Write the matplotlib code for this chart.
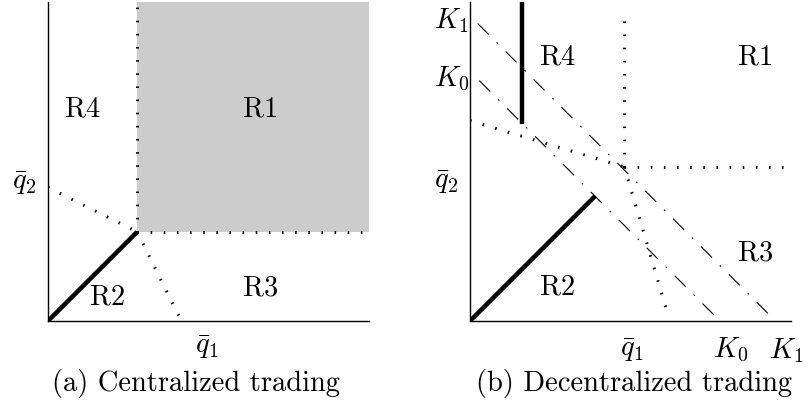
import matplotlib
matplotlib.use("Agg")
import matplotlib.pyplot as plt

plt.rcParams['font.family'] = 'serif'
plt.rcParams['font.serif'] = ['cmr10', 'DejaVu Serif']
plt.rcParams['mathtext.fontset'] = 'cm'
plt.rcParams['axes.unicode_minus'] = False

# ---- data (normalised so that q1bar = q2bar = 1) ----
q_bar = [1.0, 1.0]                      # (q1bar, q2bar)
# panel (a)
a_xmax, a_ymax = 3.6, 3.58
a_upper_dotted = [[0.0, 1.0], [1.5, 1.0]]     # x list, y list
a_lower_dotted = [[1.0, 1.47], [1.0, 0.05]]
a_regions = ["R4", "R1", "R2", "R3"]
a_region_xy = [[0.39, 2.37], [2.39, 2.37], [0.67, 0.26], [2.39, 0.37]]
# panel (b)
b_xmax, b_ymax = 2.08, 2.07
K0, K1 = 1.62, 1.98
b_upper_dotted = [[0.0, 1.0], [1.3, 1.0]]
b_lower_dotted = [[1.0, 1.28], [1.0, 0.05]]
b_thick_vertical_x = 0.34
b_thick_diag_end = 0.81
b_regions = ["R4", "R1", "R3", "R2"]
b_region_xy = [[0.57, 1.71], [1.85, 1.71], [1.85, 0.44], [0.57, 0.22]]

FS = 20.5
W, H = 810, 400
fig = plt.figure(figsize=(8.1, 4.0), dpi=100)

dot_kw = dict(color='black', lw=2.2, dashes=(0.5, 3.8), dash_capstyle='butt')
dd_kw = dict(color='black', lw=0.8, dashes=(14, 10, 1.5, 10))


def make_ax(px_left, px_right, px_top, px_bottom, xmax, ymax):
    ax = fig.add_axes([px_left / W, (H - px_bottom) / H,
                       (px_right - px_left) / W, (px_bottom - px_top) / H])
    ax.set_xlim(0, xmax)
    ax.set_ylim(0, ymax)
    ax.axis('off')
    ax.plot([0, 0], [0, ymax], color='black', lw=1.0, clip_on=False)
    ax.plot([0, xmax], [0, 0], color='black', lw=1.0, clip_on=False)
    return ax

# ---------------- panel (a) ----------------
ax = make_ax(48, 369, 2, 321, a_xmax, a_ymax)
ax.fill_between([q_bar[0], a_xmax], q_bar[1], a_ymax, color='#cccccc', lw=0)
ax.plot([q_bar[0], q_bar[0]], [q_bar[1], a_ymax], **dot_kw)
ax.plot([q_bar[0], a_xmax], [q_bar[1], q_bar[1]], **dot_kw)
ax.plot(a_upper_dotted[0], a_upper_dotted[1], **dot_kw)
ax.plot(a_lower_dotted[0], a_lower_dotted[1], **dot_kw)
ax.plot([0, q_bar[0]], [0, q_bar[1]], color='black', lw=3.2, solid_capstyle='butt')
for lab, (x, y) in zip(a_regions, a_region_xy):
    ax.text(x, y, lab, fontsize=FS, ha='center', va='center')
ax.text(-0.26, 1.55, r'$\bar{q}_2$', fontsize=FS, ha='center', va='center', clip_on=False)
ax.text(1.79, -0.29, r'$\bar{q}_1$', fontsize=FS, ha='center', va='center', clip_on=False)
fig.text(196 / W, 1 - 383 / H, '(a) Centralized trading', fontsize=FS, ha='center', va='center')

# ---------------- panel (b) ----------------
ax = make_ax(470, 791, 2, 321, b_xmax, b_ymax)
ax.plot([q_bar[0], q_bar[0]], [q_bar[1], 2.02], **dot_kw)
ax.plot([q_bar[0], 2.03], [q_bar[1], q_bar[1]], **dot_kw)
ax.plot(b_upper_dotted[0], b_upper_dotted[1], **dot_kw)
ax.plot(b_lower_dotted[0], b_lower_dotted[1], **dot_kw)
ax.plot([0.05, K1 - 0.02], [K1 - 0.05, 0.02], **dd_kw)
ax.plot([0.06, K0 - 0.01], [K0 - 0.06, 0.01], **dd_kw)
ax.plot([b_thick_vertical_x, b_thick_vertical_x], [K0 - b_thick_vertical_x, b_ymax],
        color='black', lw=3.2, solid_capstyle='butt')
ax.plot([0, b_thick_diag_end], [0, b_thick_diag_end], color='black', lw=3.2,
        solid_capstyle='butt')
for lab, (x, y) in zip(b_regions, b_region_xy):
    ax.text(x, y, lab, fontsize=FS, ha='center', va='center')
ax.text(-0.12, 1.95, r'$K_1$', fontsize=FS, ha='center', va='center', clip_on=False)
ax.text(-0.12, 1.57, r'$K_0$', fontsize=FS, ha='center', va='center', clip_on=False)
ax.text(-0.15, 0.90, r'$\bar{q}_2$', fontsize=FS, ha='center', va='center', clip_on=False)
ax.text(1.05, -0.19, r'$\bar{q}_1$', fontsize=FS, ha='center', va='center', clip_on=False)
ax.text(1.69, -0.19, r'$K_0$', fontsize=FS, ha='center', va='center', clip_on=False)
ax.text(2.05, -0.19, r'$K_1$', fontsize=FS, ha='center', va='center', clip_on=False)
fig.text(634 / W, 1 - 383 / H, '(b) Decentralized trading', fontsize=FS, ha='center', va='center')

fig.savefig('out.png', dpi=100)
